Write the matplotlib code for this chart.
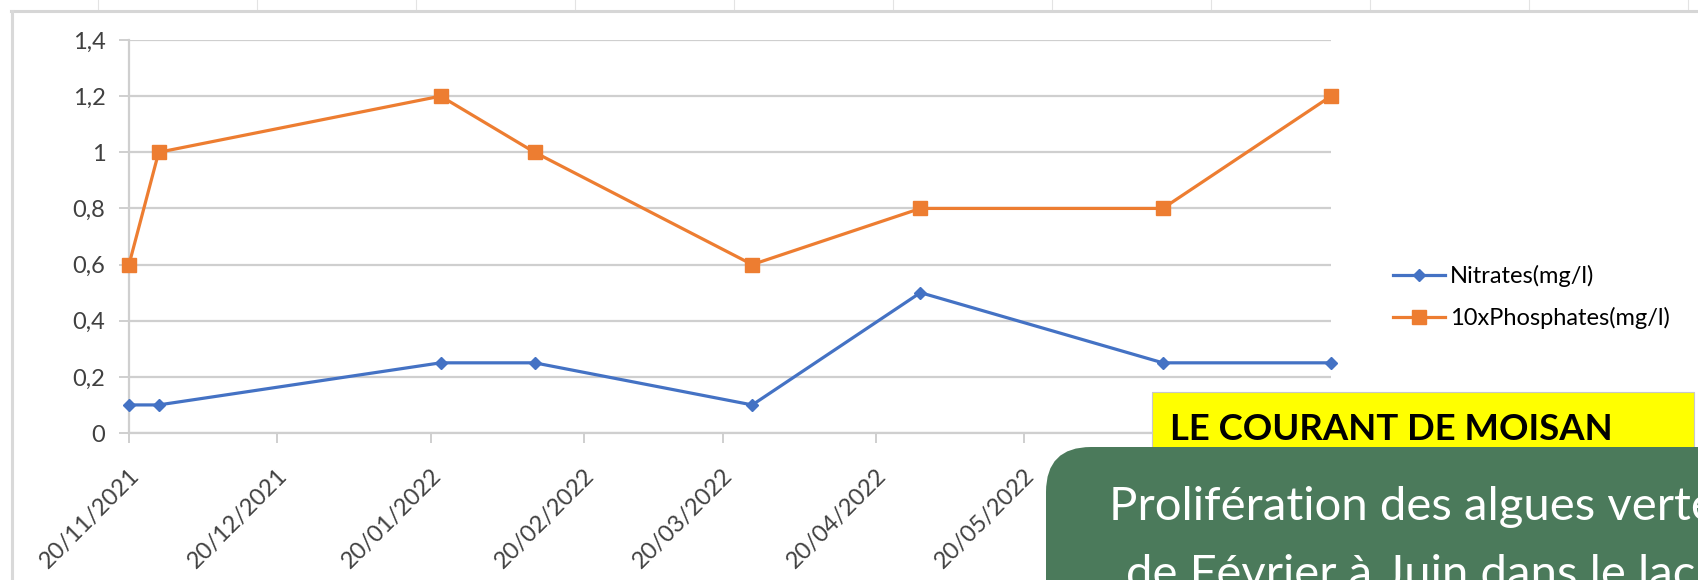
#!/usr/bin/env python3
"""Nitrates / phosphates du Courant de Moisan, chart redrawn from the Excel capture."""

import datetime

from matplotlib import pyplot as plt
from matplotlib import dates as mdates
from matplotlib import ticker
from matplotlib.lines import Line2D
from matplotlib.patches import FancyBboxPatch, Rectangle
from matplotlib.transforms import IdentityTransform, ScaledTranslation

sample_dates = [
    "20/11/2021", "26/11/2021", "22/01/2022", "10/02/2022",
    "26/03/2022", "29/04/2022", "17/06/2022", "21/07/2022",
]
nitrates = [0.1, 0.1, 0.25, 0.25, 0.1, 0.5, 0.25, 0.25]
phosphates_x10 = [0.6, 1.0, 1.2, 1.0, 0.6, 0.8, 0.8, 1.2]
series_labels = ["Nitrates(mg/l)", "10xPhosphates(mg/l)"]
y_ticks = [0, 0.2, 0.4, 0.6, 0.8, 1.0, 1.2, 1.4]

title_box = "LE COURANT DE MOISAN"
note_lines = ["Prolifération des algues vertes", "de Février à Juin dans le lac"]

W, H = 1699, 580
TEXT = ["Lato", "DejaVu Sans"]


def px(x, y):
    # pixel from top-left -> figure fraction
    return x / W, 1 - y / H


def main():
    x = [datetime.datetime.strptime(d, "%d/%m/%Y") for d in sample_dates]

    fig = plt.figure(figsize=(W / 100, H / 100), dpi=100)
    fig.patch.set_facecolor("white")

    left, top = px(129, 40)
    right, bottom = px(1331, 433)
    ax = fig.add_axes([left, bottom, right - left, top - bottom])

    ax.plot(x, nitrates, color="#4472C4", lw=2.3, marker="D", ms=6,
            label=series_labels[0], zorder=3, clip_on=False)
    ax.plot(x, phosphates_x10, color="#ED7D31", lw=2.3, marker="s", ms=10,
            label=series_labels[1], zorder=3, clip_on=False)

    ax.set_ylim(0, 1.4)
    ax.set_yticks(y_ticks)
    ax.yaxis.set_major_formatter(
        ticker.FuncFormatter(lambda v, p: ("%g" % v).replace(".", ",")))
    ax.set_xlim(x[0], x[-1])
    ax.xaxis.set_major_locator(mdates.MonthLocator(bymonthday=20))
    ax.xaxis.set_major_formatter(mdates.DateFormatter("%d/%m/%Y"))

    ax.grid(axis="y", color="#cfcfcf", lw=1.6, zorder=0)
    for side in ("top", "right"):
        ax.spines[side].set_visible(False)
    for side in ("left", "bottom"):
        ax.spines[side].set_color("#cfcfcf")
        ax.spines[side].set_linewidth(1.6)

    ax.tick_params(axis="y", length=7, width=1.4, color="#cfcfcf", pad=10,
                   labelsize=17, labelcolor="#404040")
    ax.tick_params(axis="x", length=7, width=1.4, color="#cfcfcf", pad=21,
                   labelsize=17, labelcolor="#404040")
    shift = ScaledTranslation(7 / 100, 0, fig.dpi_scale_trans)
    for lab in ax.get_xticklabels():
        lab.set_rotation(45)
        lab.set_ha("right")
        lab.set_va("center")
        lab.set_rotation_mode("anchor")
        lab.set_family(TEXT)
        lab.set_transform(lab.get_transform() + shift)
    for lab in ax.get_yticklabels():
        lab.set_family(TEXT)

    lx, ly = px(1393, 297)
    ax.legend(loc="center left", bbox_to_anchor=(lx, ly),
              bbox_transform=fig.transFigure, frameon=False,
              prop={"family": TEXT, "size": 17}, handlelength=2.2,
              handletextpad=0.2, labelspacing=0.85, borderpad=0,
              borderaxespad=0)

    # spreadsheet cells above the chart and the chart area border
    ident = IdentityTransform()
    for cx in range(98, W, 159):
        fig.add_artist(Line2D([cx, cx], [H - 10, H], color="#e3e3e3", lw=0.8,
                              transform=ident))
    fig.add_artist(Line2D([11, W], [H - 11, H - 11], color="#d6d6d6", lw=2.2,
                          transform=ident))
    fig.add_artist(Line2D([12, 12], [0, H - 11], color="#d9d9d9", lw=2.2,
                          transform=ident))

    # yellow label
    fig.add_artist(Rectangle((1152, H - 480), 542, 88, facecolor="#FFFF00",
                             edgecolor="#c8c8c8", lw=0.8, transform=ident,
                             zorder=5))
    fig.text(1170 / W, 1 - 440 / H, title_box, family=TEXT,
             fontweight="bold", fontsize=26.3, color="black", va="baseline",
             zorder=6)

    # green note
    fig.add_artist(FancyBboxPatch((1046, -80), 800, 80 + H - 447,
                                  boxstyle="round,pad=0,rounding_size=45",
                                  facecolor="#4b7a5b", edgecolor="none",
                                  transform=ident, zorder=7))
    fig.text(1109 / W, 1 - 520 / H, note_lines[0], family=TEXT, fontsize=34,
             color="white", va="baseline", zorder=8)
    fig.text(1126 / W, 1 - 588 / H, note_lines[1], family=TEXT, fontsize=34,
             color="white", va="baseline", zorder=8)

    fig.savefig("out.png", dpi=100)


if __name__ == "__main__":
    main()
